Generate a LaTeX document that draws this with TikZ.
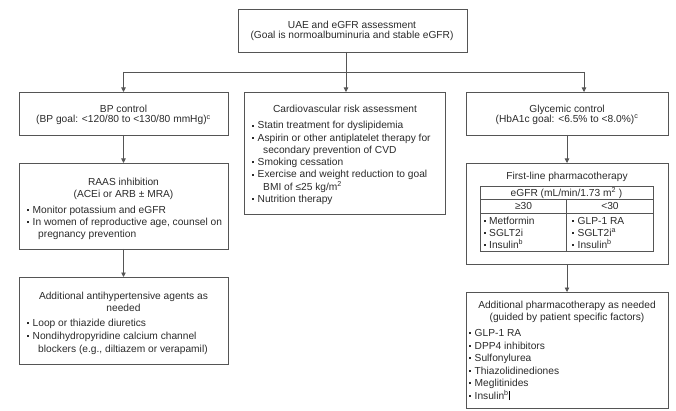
\documentclass[tikz,border=0pt]{standalone}
\usepackage{fontspec}
\setmainfont{Liberation Sans}
\usetikzlibrary{arrows.meta}
\definecolor{linec}{HTML}{555555}
\definecolor{txtc}{HTML}{2A2A2A}
\newcommand{\bl}{\makebox[5.5pt][l]{\rule[2.3pt]{2.1pt}{2.1pt}}}
\begin{document}
\begin{tikzpicture}[x=1pt,y=-1pt,
  box/.style={draw=linec, line width=0.8pt, anchor=north west, inner sep=0pt, outer sep=0pt},
  ctr/.style={anchor=base, inner sep=0pt, text=txtc, font=\fontsize{10.2}{12}\selectfont},
  lft/.style={anchor=base west, inner sep=0pt, text=txtc, font=\fontsize{10.2}{12}\selectfont},
  conn/.style={draw=linec, line width=0.8pt},
  arr/.style={conn, -{Triangle[width=4.5pt,length=4.5pt]}}]
\useasboundingbox (0,0) rectangle (676,411);
% boxes
\node[box, minimum width=229pt, minimum height=43pt] (top) at (238,9) {};
\node[box, minimum width=209pt, minimum height=43pt] (bp) at (19,92) {};
\node[box, minimum width=201pt, minimum height=122pt] (cv) at (244,92) {};
\node[box, minimum width=202pt, minimum height=43pt] (gly) at (466,92) {};
\node[box, minimum width=209pt, minimum height=86pt] (raas) at (19,163) {};
\node[box, minimum width=209pt, minimum height=87pt] (aah) at (19,277) {};
\node[box, minimum width=202pt, minimum height=101pt] (flp) at (466,163) {};
\node[box, minimum width=202pt, minimum height=116pt] (apt) at (466,292) {};
\node[box, minimum width=173pt, minimum height=65pt] (tbl) at (480,186) {};
% connectors
\coordinate (j) at (346,72);
\coordinate (jl) at (123.5,72);
\coordinate (jr) at (584,72);
\draw[conn] (top.south -| j) -- (j);
\draw[conn] (jl) -- (jr);
\draw[arr] (jl) -- (bp.north);
\draw[arr] (j) -- (cv.north -| j);
\draw[arr] (jr) -- (gly.north -| jr);
\draw[arr] (bp.south) -- (raas.north);
\draw[arr] (raas.south) -- (aah.north);
\draw[arr] (gly.south) -- (flp.north);
\draw[arr] (flp.south) -- (apt.north);
% table lines
\coordinate (r1l) at (480,199); \coordinate (r2l) at (480,213);
\coordinate (cd) at (566.5,199);
\draw[conn] (r1l) -- (r1l -| tbl.east);
\draw[conn] (r2l) -- (r2l -| tbl.east);
\draw[conn] (cd) -- (cd |- tbl.south);
% top texts
\node[ctr] (t1) at (352,28.5) {UAE and eGFR assessment};
\node[ctr] (t2) at (352,39) {(Goal is normoalbuminuria and stable eGFR)};
% BP
\node[ctr] (b1) at (123.5,112.5) {BP control};
\node[ctr] (b2) at (123.5,123) {(BP goal: <120/80 to <130/80 mmHg)\textsuperscript{c}};
% CV
\node[ctr] (c0) at (345,112.5) {Cardiovascular risk assessment};
\node[lft] (c1) at (252,129) {\bl Statin treatment for dyslipidemia};
\node[lft] (c2) at (252,141.25) {\bl Aspirin or other antiplatelet therapy for};
\node[lft] (c3) at (263,153.5) {secondary prevention of CVD};
\node[lft] (c4) at (252,165.75) {\bl Smoking cessation};
\node[lft] (c5) at (252,178) {\bl Exercise and weight reduction to goal};
\node[lft] (c6) at (263,190.25) {BMI of ≤25 kg/m\textsuperscript{2}};
\node[lft] (c7) at (252,202.5) {\bl Nutrition therapy};
% Glycemic
\node[ctr] (g1) at (567,112.5) {Glycemic control};
\node[ctr] (g2) at (567,122.5) {(HbA1c goal: <6.5\% to <8.0\%)\textsuperscript{c}};
% RAAS
\node[ctr] (r1) at (123.5,185.5) {RAAS inhibition};
\node[ctr] (r2) at (123.5,197.5) {(ACEi or ARB ± MRA)};
\node[lft] (r3) at (27,213.5) {\bl Monitor potassium and eGFR};
\node[lft] (r4) at (27,225.5) {\bl In women of reproductive age, counsel on};
\node[lft] (r5) at (38,237.5) {pregnancy prevention};
% additional antihypertensive
\node[ctr] (a1) at (123.5,299.5) {Additional antihypertensive agents as};
\node[ctr] (a2) at (123.5,311.5) {needed};
\node[lft] (a3) at (27,326.5) {\bl Loop or thiazide diuretics};
\node[lft] (a4) at (27,339.25) {\bl Nondihydropyridine calcium channel};
\node[lft] (a5) at (38,352) {blockers (e.g., diltiazem or verapamil)};
% first line
\node[ctr] (f0) at (567,179.5) {First-line pharmacotherapy};
\node[ctr] (f1) at (566.5,196.5) {eGFR (mL/min/1.73 m\textsuperscript{2} )};
\node[ctr] (f2) at (523.5,210) {≥30};
\node[ctr] (f3) at (610,210) {<30};
\node[lft] (f4) at (483.5,224.5) {\bl Metformin};
\node[lft] (f5) at (483.5,236.5) {\bl SGLT2i};
\node[lft] (f6) at (483.5,248.5) {\bl Insulin\textsuperscript{b}};
\node[lft] (f7) at (572,224.5) {\bl GLP-1 RA};
\node[lft] (f8) at (572,236.5) {\bl SGLT2i\textsuperscript{a}};
\node[lft] (f9) at (572,248.5) {\bl Insulin\textsuperscript{b}};
% additional pharmacotherapy
\node[ctr] (p1) at (567,308.5) {Additional pharmacotherapy as needed};
\node[ctr] (p2) at (567,320.5) {(guided by patient specific factors)};
\node[lft] (p3) at (469,336.5) {\bl GLP-1 RA};
\node[lft] (p4) at (469,349) {\bl DPP4 inhibitors};
\node[lft] (p5) at (469,361.5) {\bl Sulfonylurea};
\node[lft] (p6) at (469,374) {\bl Thiazolidinediones};
\node[lft] (p7) at (469,386.5) {\bl Meglitinides};
\node[lft] (p8) at (469,399) {\bl Insulin\textsuperscript{b}};
\coordinate (cur) at ([xshift=0.8pt]p8.base east);
\draw[black, line width=0.7pt] ([yshift=-1pt]cur) -- ([yshift=8pt]cur);
\end{tikzpicture}
\end{document}
